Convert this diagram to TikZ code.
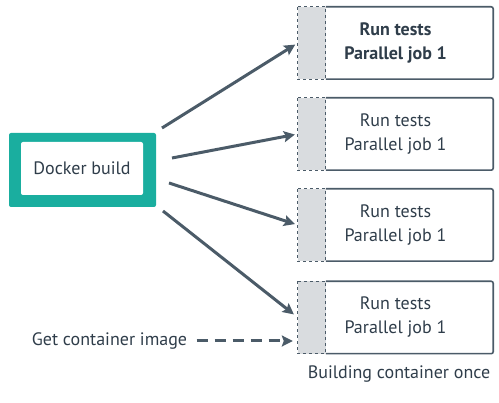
\documentclass[tikz,border=0pt]{standalone}
\usepackage{fontspec}
\setmainfont{PT Sans}
\usepackage{xcolor}
\usetikzlibrary{arrows.meta}
\definecolor{buildteal}{HTML}{1AAE9F}
\definecolor{slate}{HTML}{4B5B68}
\definecolor{inkgrey}{HTML}{2F3D4A}
\definecolor{stripgrey}{HTML}{D9DCDF}

\begin{document}
\begin{tikzpicture}[x=1pt, y=-1pt, >={Stealth[length=11pt, width=11pt, inset=2pt]},
  every node/.style={text=inkgrey},
  jobbox/.style={minimum width=195pt, minimum height=72pt, align=center, font=\fontsize{18}{24}\selectfont},
  jobline/.style={draw=slate, line width=1.6pt, rounded corners=2pt},
  stripbox/.style={fill=stripgrey, draw=slate, line width=1.2pt, dashed},
  flow/.style={->, draw=slate, line width=3pt, shorten >=3pt}]

\useasboundingbox (0,0) rectangle (499,403);

% Docker build
\node[fill=buildteal, rounded corners=2pt, minimum width=147pt, minimum height=74pt] (build) at (82.5,170) {};
\node[fill=white, rounded corners=2pt, minimum width=122pt, minimum height=53pt, font=\fontsize{18}{22}\selectfont] (buildtxt) at (82,168.5) {Docker build};

% Parallel jobs
\node[jobbox, font=\fontsize{18}{24}\selectfont\bfseries] (job1) at (395.5,43) {Run tests\\Parallel job 1};
\node[jobbox] (job2) at (395.5,134) {Run tests\\Parallel job 1};
\node[jobbox] (job3) at (395.5,225) {Run tests\\Parallel job 1};
\node[jobbox] (job4) at (395.5,317.5) {Run tests\\Parallel job 1};
\foreach \j in {job1,job2,job3,job4} {
  \draw[jobline] ([xshift=28pt]\j.north west) -- (\j.north east) -- (\j.south east) -- ([xshift=28pt]\j.south west);
  \draw[stripbox] (\j.north west) rectangle ([xshift=28pt]\j.south west);
}

% Fan-out arrows
\coordinate (out1) at (162,128);
\coordinate (out2) at (172,158);
\coordinate (out3) at (169,183);
\coordinate (out4) at (163,211);
\draw[flow] (out1) -- (job1.west);
\draw[flow] (out2) -- (job2.west);
\draw[flow] (out3) -- (job3.west);
\draw[flow, shorten >=5pt] (out4) -- (job4.west);

% Pull image
\node[font=\fontsize{18}{22}\selectfont] (getimg) at (109.5,341) {Get container image};
\coordinate (pull) at (job4.west |- getimg);
\draw[flow, dash pattern=on 11pt off 7pt, shorten <=6pt, shorten >=5pt] (getimg.east) -- (pull);

% Caption
\node[font=\fontsize{18}{22}\selectfont] (caption) at (399,374) {Building container once};

\end{tikzpicture}
\end{document}
